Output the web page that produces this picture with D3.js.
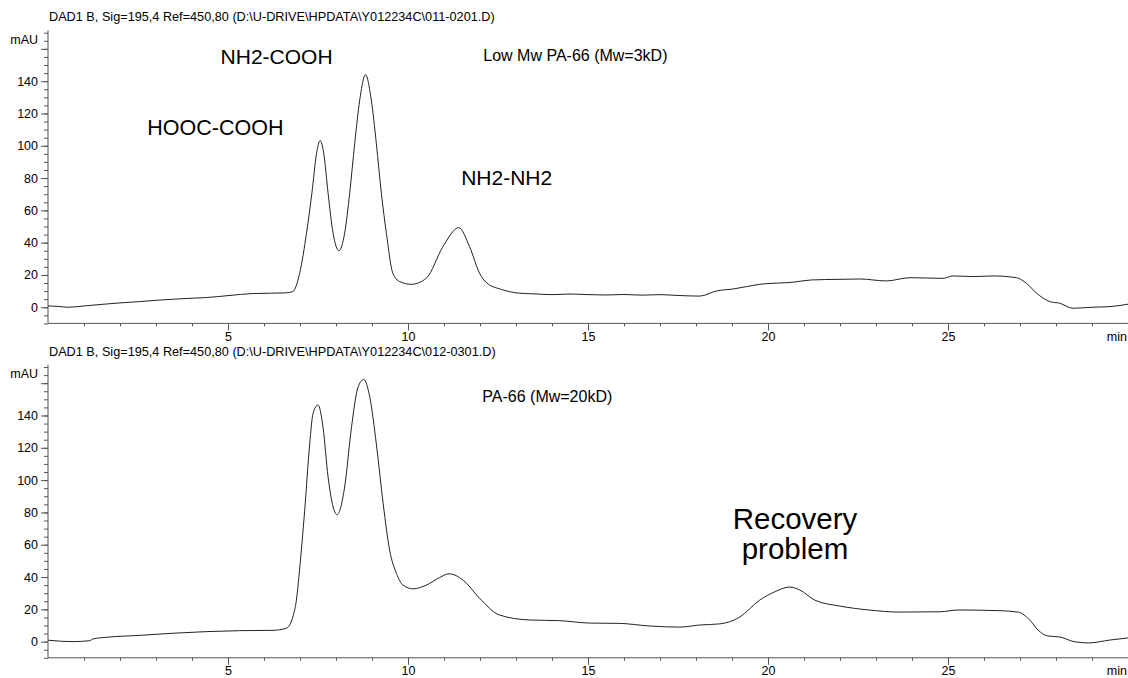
<!DOCTYPE html>
<html>
<head>
<meta charset="utf-8">
<script src="https://cdn.jsdelivr.net/npm/d3@7/dist/d3.min.js"></script>
<style>
  html, body { margin: 0; padding: 0; background: #fff; }
  svg { display: block; }
  text { font-family: "Liberation Sans", Arial, Helvetica, sans-serif; fill: #000; }
</style>
</head>
<body>
<svg id="chart" width="1128" height="678"></svg>
<script>
// ---------- DATA ----------
const headerTop = "DAD1 B, Sig=195,4 Ref=450,80 (D:\\U-DRIVE\\HPDATA\\Y012234C\\011-0201.D)";
const headerBottom = "DAD1 B, Sig=195,4 Ref=450,80 (D:\\U-DRIVE\\HPDATA\\Y012234C\\012-0301.D)";

const xTickValues = [5, 10, 15, 20, 25];
const yTickValues = [0, 20, 40, 60, 80, 100, 120, 140];

// Low Mw PA-66 (Mw=3kD) trace: time (min) and signal (mAU)
const topTime = [0, 0.3, 0.56, 1.0, 1.5, 2.0, 2.55, 3.0, 3.5, 4.0, 4.4, 5.0, 5.7, 6.2, 6.6, 6.8,
  6.99, 7.18, 7.33, 7.46, 7.56, 7.66, 7.78, 7.92, 8.08, 8.24, 8.38, 8.52, 8.66, 8.82, 8.98,
  9.12, 9.26, 9.40, 9.58, 9.77, 10.09, 10.51, 10.97, 11.41, 11.71, 11.99, 12.18, 12.6, 13.1,
  13.5, 14.0, 14.5, 15.0, 15.5, 16.0, 16.5, 17.0, 17.5, 18.1, 18.57, 19.03, 19.77, 20.69,
  21.2, 22.0, 22.55, 23.29, 23.94, 24.86, 25.14, 25.7, 26.25, 26.9, 27.18, 27.46, 27.83,
  28.1, 28.47, 29.0, 29.5, 30.0];
const topSignal = [0.8, 0.5, 0, 0.8, 1.8, 2.7, 3.5, 4.3, 5.0, 5.6, 6.0, 7.2, 8.5, 8.7, 8.9, 9.7,
  21, 45.8, 70.6, 95.3, 103.2, 95.3, 70.6, 45.8, 35, 45.8, 70.6, 101.5, 128.4, 144, 128.4,
  101.5, 70.6, 45.8, 21, 15.9, 14.2, 18, 37.5, 49.3, 37.5, 21, 15.2, 11, 8.7,
  8.3, 7.8, 8.2, 7.8, 7.6, 7.9, 7.5, 7.8, 7.3, 6.9, 10.1, 11.3, 14.2, 15.5,
  16.9, 17.3, 17.5, 16.3, 18.3, 17.9, 19.4, 19.0, 19.4, 18.3, 14.8, 8.7, 3.5,
  2.5, -0.6, 0, 0.4, 1.9];

// PA-66 (Mw=20kD) trace
const bottomTime = [0, 0.69, 1.16, 1.25, 1.62, 2.55, 3.47, 4.4, 5.32, 6.25, 6.62, 6.81, 6.9,
  6.99, 7.13, 7.27, 7.36, 7.50, 7.64, 7.78, 8.03, 8.24, 8.43, 8.61, 8.77, 8.94, 9.12, 9.31,
  9.49, 9.68, 9.86, 10.14, 10.51, 10.88, 11.14, 11.53, 11.99, 12.54, 13.38, 14.2, 15.05,
  15.88, 16.7, 17.55, 18.1, 18.66, 19.2, 19.77, 20.2, 20.6, 20.88, 21.3, 22.0, 22.8, 23.66,
  24.77, 25.3, 26.4, 26.95, 27.27, 27.5, 27.77, 28.1, 28.5, 28.9, 29.5, 30];
const bottomSignal = [0.9, 0, 0.6, 1.7, 2.7, 3.9, 5.2, 6.2, 6.8, 7.0, 8.3, 16, 25.7,
  45, 81.3, 122.5, 141, 146.5, 132.7, 101.9, 78.6, 95.7, 132.7, 157.4, 162.3, 151.2, 122.5, 85.4,
  56.6, 42.2, 35, 32.7, 35, 39.7, 42, 38.1, 26.8, 16.5, 13.4, 13.0, 11.5,
  11.3, 9.7, 9.0, 10.3, 11, 15, 25.7, 31, 33.8, 32, 25.7, 22, 19.6, 18.3,
  18.5, 19.6, 19.2, 18.3, 13.4, 7.2, 3.5, 2.9, 0, -0.8, 1, 2.3];

const topNotes = [
  {text: "NH2-COOH", t: 6.35, v: 150.5, size: 21},
  {text: "HOOC-COOH", t: 4.65, v: 106.5, size: 21.5},
  {text: "NH2-NH2", t: 12.74, v: 75.5, size: 21},
  {text: "Low Mw PA-66 (Mw=3kD)", t: 14.65, v: 152.5, size: 16}
];
const bottomNotes = [
  {text: "PA-66 (Mw=20kD)", t: 13.87, v: 148.5, size: 16},
  {text: "Recovery", t: 20.75, v: 69.5, size: 29.5},
  {text: "problem", t: 20.75, v: 51, size: 29.5}
];

// ---------- DRAWING ----------
const svg = d3.select("#chart");
const left = 48, right = 1128;
const axisColor = "#555";

const x = d3.scaleLinear().domain([0, 30]).range([left, right]);

function panel(cfg) {
  const y = d3.scaleLinear().domain([-10, 171.5]).range([cfg.bottom, cfg.top]);
  const g = svg.append("g");

  // header
  g.append("text").attr("x", 49).attr("y", cfg.headerY)
    .attr("font-size", 12.7).text(cfg.header);

  // y axis: minor ticks every 5, major every 20
  const yMinor = d3.range(-10, 171, 5);
  const yMajor = d3.range(0, 171, 20);
  const yAxisMinor = d3.axisLeft(y).tickValues(yMinor).tickSize(4).tickFormat("");
  const yAxisMajor = d3.axisLeft(y).tickValues(yMajor).tickSize(7)
    .tickFormat(d => yTickValues.includes(d) ? d : "");
  const ya = g.append("g").attr("transform", `translate(${left},0)`);
  ya.call(yAxisMinor);
  const yb = g.append("g").attr("transform", `translate(${left},0)`);
  yb.call(yAxisMajor);
  [ya, yb].forEach(s => {
    s.select(".domain").attr("stroke", axisColor).attr("stroke-width", 1);
    s.selectAll(".tick line").attr("stroke", axisColor);
    s.selectAll("text").attr("font-size", 12.5).attr("font-family", "Liberation Sans, Arial, sans-serif")
      .attr("fill", "#000").attr("x", -10);
  });
  yb.select(".domain").remove();
  ya.select(".domain").attr("d", `M0,${cfg.top}V${cfg.bottom}`);

  g.append("text").attr("x", 38).attr("y", y(166) + 4.5)
    .attr("text-anchor", "end").attr("font-size", 12.5).text("mAU");

  // x axis
  const xMinor = d3.range(1, 31, 1);
  const xAxisMinor = d3.axisBottom(x).tickValues(xMinor).tickSize(3).tickFormat("");
  const xAxisMajor = d3.axisBottom(x).tickValues(xTickValues).tickSize(7).tickFormat(d => d);
  const xa = g.append("g").attr("transform", `translate(0,${cfg.bottom})`).call(xAxisMinor);
  const xb = g.append("g").attr("transform", `translate(0,${cfg.bottom})`).call(xAxisMajor);
  [xa, xb].forEach(s => {
    s.select(".domain").attr("stroke", axisColor);
    s.selectAll(".tick line").attr("stroke", axisColor);
    s.selectAll("text").attr("font-size", 12.5).attr("font-family", "Liberation Sans, Arial, sans-serif")
      .attr("fill", "#000").attr("y", 8.3);
  });
  xb.select(".domain").remove();
  xa.select(".domain").attr("d", `M${left},0H${right}`);

  g.append("text").attr("x", 1127).attr("y", cfg.bottom + 17.2)
    .attr("text-anchor", "end").attr("font-size", 12.5).text("min");

  // trace
  const pts = cfg.time.map((t, i) => [t, cfg.signal[i]]);
  const line = d3.line().x(d => x(d[0])).y(d => y(d[1])).curve(d3.curveMonotoneX);
  g.append("path").datum(pts).attr("d", line)
    .attr("fill", "none").attr("stroke", "#222").attr("stroke-width", 1);

  // annotations
  cfg.notes.forEach(n => {
    g.append("text").attr("x", x(n.t)).attr("y", y(n.v))
      .attr("text-anchor", "middle").attr("font-size", n.size).text(n.text);
  });
}

panel({top: 30.3, bottom: 323.4, headerY: 21, header: headerTop,
       time: topTime, signal: topSignal, notes: topNotes});
panel({top: 364.6, bottom: 657.8, headerY: 356, header: headerBottom,
       time: bottomTime, signal: bottomSignal, notes: bottomNotes});
</script>
</body>
</html>
